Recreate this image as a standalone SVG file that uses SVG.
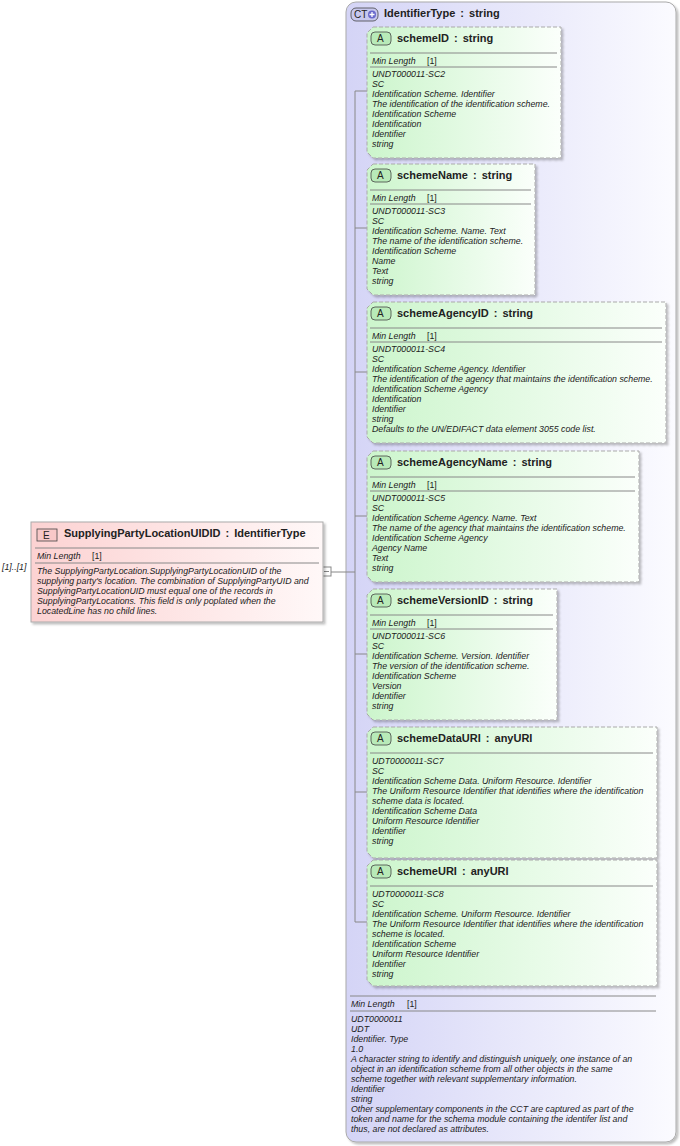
<svg xmlns="http://www.w3.org/2000/svg" width="680" height="1146" viewBox="0 0 680 1146">
<defs>
<linearGradient id="ct" x1="0" y1="0" x2="1" y2="0"><stop offset="0" stop-color="#d4d4f6"/><stop offset="1" stop-color="#fbfbff"/></linearGradient>
<linearGradient id="at" x1="0" y1="0" x2="1" y2="0"><stop offset="0" stop-color="#ccf5cc"/><stop offset="1" stop-color="#fbfffb"/></linearGradient>
<linearGradient id="el" x1="0" y1="0" x2="1" y2="0"><stop offset="0" stop-color="#fcd2d2"/><stop offset="1" stop-color="#fff8f8"/></linearGradient>
<filter id="sh" x="-5%" y="-5%" width="110%" height="110%"><feDropShadow dx="2" dy="2" stdDeviation="1.2" flood-color="#000" flood-opacity="0.25"/></filter>
</defs>
<style>
text{font-family:"Liberation Sans",Arial,sans-serif;fill:#222}
.t{font-size:11px;font-weight:bold;word-spacing:2px}
.i{font-size:8.8px;font-style:italic}
.m{font-size:8.8px}
.ab{fill:url(#at);stroke:#aaa;stroke-dasharray:4,2;filter:url(#sh)}
.sep{stroke:#888;stroke-width:1}
.cn{stroke:#888;fill:none}
</style>
<g id="ct-box">
<rect x="346" y="2" width="330" height="1140" rx="10" fill="url(#ct)" stroke="#aaa" filter="url(#sh)"/>
<rect x="351" y="8" width="27" height="13" rx="5" fill="#c8c8ee" stroke="#444" stroke-width="0.8"/>
<text x="354" y="18" style="font-size:10px">CT</text>
<circle cx="372" cy="14.5" r="4" fill="#6a6acc"/>
<path d="M369.5 14.5h5M372 12v5" stroke="#fff" stroke-width="1.3"/>
<text class="t" x="384" y="17">IdentifierType : string</text>
<line class="sep" x1="350" y1="996" x2="656" y2="996"/>
<text class="i" x="351" y="1007">Min Length</text><text class="m" x="407" y="1007">[1]</text>
<line class="sep" x1="350" y1="1011" x2="656" y2="1011"/>
<text class="i" x="351" y="1022">UDT0000011</text>
<text class="i" x="351" y="1032">UDT</text>
<text class="i" x="351" y="1042">Identifier. Type</text>
<text class="i" x="351" y="1052">1.0</text>
<text class="i" x="351" y="1062">A character string to identify and distinguish uniquely, one instance of an</text>
<text class="i" x="351" y="1072">object in an identification scheme from all other objects in the same</text>
<text class="i" x="351" y="1082">scheme together with relevant supplementary information.</text>
<text class="i" x="351" y="1092">Identifier</text>
<text class="i" x="351" y="1102">string</text>
<text class="i" x="351" y="1112">Other supplementary components in the CCT are captured as part of the</text>
<text class="i" x="351" y="1122">token and name for the schema module containing the identifer list and</text>
<text class="i" x="351" y="1132">thus, are not declared as attributes.</text>
</g>
<g id="connectors">
<line class="cn" x1="323" y1="572" x2="346" y2="572"/>
<rect x="322" y="567" width="9" height="9" fill="#fff" stroke="#888"/>
<line x1="324" y1="571.5" x2="329" y2="571.5" stroke="#888"/>
<line class="cn" x1="346" y1="572" x2="355" y2="572"/>
<line class="cn" x1="355" y1="91" x2="355" y2="922"/>
<line class="cn" x1="355" y1="91" x2="367" y2="91"/>
<line class="cn" x1="355" y1="228" x2="367" y2="228"/>
<line class="cn" x1="355" y1="372" x2="367" y2="372"/>
<line class="cn" x1="355" y1="516" x2="367" y2="516"/>
<line class="cn" x1="355" y1="654" x2="367" y2="654"/>
<line class="cn" x1="355" y1="792" x2="367" y2="792"/>
<line class="cn" x1="355" y1="922" x2="367" y2="922"/>
</g>
<g id="element">
<text class="i" x="2" y="570">[1]..[1]</text>
<rect x="31" y="522" width="292" height="100" fill="url(#el)" stroke="#aaa" filter="url(#sh)"/>
<rect x="37" y="529" width="20" height="12" fill="#f8c8c8" stroke="#444" stroke-width="0.8"/>
<text x="43" y="539" style="font-size:10px">E</text>
<text class="t" x="64" y="537">SupplyingPartyLocationUIDID : IdentifierType</text>
<line class="sep" x1="35" y1="548" x2="319" y2="548"/>
<text class="i" x="37" y="559">Min Length</text><text class="m" x="92" y="559">[1]</text>
<line class="sep" x1="35" y1="563" x2="319" y2="563"/>
<text class="i" x="37" y="574">The SupplyingPartyLocation.SupplyingPartyLocationUID of the</text>
<text class="i" x="37" y="584">supplying party's location. The combination of SupplyingPartyUID and</text>
<text class="i" x="37" y="594">SupplyingPartyLocationUID must equal one of the records in</text>
<text class="i" x="37" y="604">SupplyingPartyLocations. This field is only poplated when the</text>
<text class="i" x="37" y="614">LocatedLine has no child lines.</text>
</g>
<g id="schemeID">
<path class="ab" d="M373 27H561V158H373L367 152V33Z"/>
<rect x="371" y="32" width="20" height="13" rx="4" fill="#b8eab8" stroke="#444" stroke-width="0.8"/>
<text x="377" y="42" style="font-size:10px">A</text>
<text class="t" x="397" y="42">schemeID : string</text>
<line class="sep" x1="370" y1="53" x2="557" y2="53"/>
<text class="i" x="372" y="64">Min Length</text><text class="m" x="427" y="64">[1]</text>
<line class="sep" x1="370" y1="67" x2="557" y2="67"/>
<text class="i" x="372" y="77">UNDT000011-SC2</text>
<text class="i" x="372" y="87">SC</text>
<text class="i" x="372" y="97">Identification Scheme. Identifier</text>
<text class="i" x="372" y="107">The identification of the identification scheme.</text>
<text class="i" x="372" y="117">Identification Scheme</text>
<text class="i" x="372" y="127">Identification</text>
<text class="i" x="372" y="137">Identifier</text>
<text class="i" x="372" y="147">string</text>
</g>
<g id="schemeName">
<path class="ab" d="M373 164H535V295H373L367 289V170Z"/>
<rect x="371" y="169" width="20" height="13" rx="4" fill="#b8eab8" stroke="#444" stroke-width="0.8"/>
<text x="377" y="179" style="font-size:10px">A</text>
<text class="t" x="397" y="179">schemeName : string</text>
<line class="sep" x1="370" y1="190" x2="531" y2="190"/>
<text class="i" x="372" y="201">Min Length</text><text class="m" x="427" y="201">[1]</text>
<line class="sep" x1="370" y1="204" x2="531" y2="204"/>
<text class="i" x="372" y="214">UNDT000011-SC3</text>
<text class="i" x="372" y="224">SC</text>
<text class="i" x="372" y="234">Identification Scheme. Name. Text</text>
<text class="i" x="372" y="244">The name of the identification scheme.</text>
<text class="i" x="372" y="254">Identification Scheme</text>
<text class="i" x="372" y="264">Name</text>
<text class="i" x="372" y="274">Text</text>
<text class="i" x="372" y="284">string</text>
</g>
<g id="schemeAgencyID">
<path class="ab" d="M373 302H666V443H373L367 437V308Z"/>
<rect x="371" y="307" width="20" height="13" rx="4" fill="#b8eab8" stroke="#444" stroke-width="0.8"/>
<text x="377" y="317" style="font-size:10px">A</text>
<text class="t" x="397" y="317">schemeAgencyID : string</text>
<line class="sep" x1="370" y1="328" x2="662" y2="328"/>
<text class="i" x="372" y="339">Min Length</text><text class="m" x="427" y="339">[1]</text>
<line class="sep" x1="370" y1="342" x2="662" y2="342"/>
<text class="i" x="372" y="352">UNDT000011-SC4</text>
<text class="i" x="372" y="362">SC</text>
<text class="i" x="372" y="372">Identification Scheme Agency. Identifier</text>
<text class="i" x="372" y="382">The identification of the agency that maintains the identification scheme.</text>
<text class="i" x="372" y="392">Identification Scheme Agency</text>
<text class="i" x="372" y="402">Identification</text>
<text class="i" x="372" y="412">Identifier</text>
<text class="i" x="372" y="422">string</text>
<text class="i" x="372" y="432">Defaults to the UN/EDIFACT data element 3055 code list.</text>
</g>
<g id="schemeAgencyName">
<path class="ab" d="M373 451H639V582H373L367 576V457Z"/>
<rect x="371" y="456" width="20" height="13" rx="4" fill="#b8eab8" stroke="#444" stroke-width="0.8"/>
<text x="377" y="466" style="font-size:10px">A</text>
<text class="t" x="397" y="466">schemeAgencyName : string</text>
<line class="sep" x1="370" y1="477" x2="635" y2="477"/>
<text class="i" x="372" y="488">Min Length</text><text class="m" x="427" y="488">[1]</text>
<line class="sep" x1="370" y1="491" x2="635" y2="491"/>
<text class="i" x="372" y="501">UNDT000011-SC5</text>
<text class="i" x="372" y="511">SC</text>
<text class="i" x="372" y="521">Identification Scheme Agency. Name. Text</text>
<text class="i" x="372" y="531">The name of the agency that maintains the identification scheme.</text>
<text class="i" x="372" y="541">Identification Scheme Agency</text>
<text class="i" x="372" y="551">Agency Name</text>
<text class="i" x="372" y="561">Text</text>
<text class="i" x="372" y="571">string</text>
</g>
<g id="schemeVersionID">
<path class="ab" d="M373 589H557V720H373L367 714V595Z"/>
<rect x="371" y="594" width="20" height="13" rx="4" fill="#b8eab8" stroke="#444" stroke-width="0.8"/>
<text x="377" y="604" style="font-size:10px">A</text>
<text class="t" x="397" y="604">schemeVersionID : string</text>
<line class="sep" x1="370" y1="615" x2="553" y2="615"/>
<text class="i" x="372" y="626">Min Length</text><text class="m" x="427" y="626">[1]</text>
<line class="sep" x1="370" y1="629" x2="553" y2="629"/>
<text class="i" x="372" y="639">UNDT000011-SC6</text>
<text class="i" x="372" y="649">SC</text>
<text class="i" x="372" y="659">Identification Scheme. Version. Identifier</text>
<text class="i" x="372" y="669">The version of the identification scheme.</text>
<text class="i" x="372" y="679">Identification Scheme</text>
<text class="i" x="372" y="689">Version</text>
<text class="i" x="372" y="699">Identifier</text>
<text class="i" x="372" y="709">string</text>
</g>
<g id="schemeDataURI">
<path class="ab" d="M373 727H657V858H373L367 852V733Z"/>
<rect x="371" y="732" width="20" height="13" rx="4" fill="#b8eab8" stroke="#444" stroke-width="0.8"/>
<text x="377" y="742" style="font-size:10px">A</text>
<text class="t" x="397" y="742">schemeDataURI : anyURI</text>
<line class="sep" x1="370" y1="753" x2="653" y2="753"/>
<text class="i" x="372" y="764">UDT0000011-SC7</text>
<text class="i" x="372" y="774">SC</text>
<text class="i" x="372" y="784">Identification Scheme Data. Uniform Resource. Identifier</text>
<text class="i" x="372" y="794">The Uniform Resource Identifier that identifies where the identification</text>
<text class="i" x="372" y="804">scheme data is located.</text>
<text class="i" x="372" y="814">Identification Scheme Data</text>
<text class="i" x="372" y="824">Uniform Resource Identifier</text>
<text class="i" x="372" y="834">Identifier</text>
<text class="i" x="372" y="844">string</text>
</g>
<g id="schemeURI">
<path class="ab" d="M373 860H657V986H373L367 980V866Z"/>
<rect x="371" y="865" width="20" height="13" rx="4" fill="#b8eab8" stroke="#444" stroke-width="0.8"/>
<text x="377" y="875" style="font-size:10px">A</text>
<text class="t" x="397" y="875">schemeURI : anyURI</text>
<line class="sep" x1="370" y1="886" x2="653" y2="886"/>
<text class="i" x="372" y="897">UDT0000011-SC8</text>
<text class="i" x="372" y="907">SC</text>
<text class="i" x="372" y="917">Identification Scheme. Uniform Resource. Identifier</text>
<text class="i" x="372" y="927">The Uniform Resource Identifier that identifies where the identification</text>
<text class="i" x="372" y="937">scheme is located.</text>
<text class="i" x="372" y="947">Identification Scheme</text>
<text class="i" x="372" y="957">Uniform Resource Identifier</text>
<text class="i" x="372" y="967">Identifier</text>
<text class="i" x="372" y="977">string</text>
</g>
</svg>
